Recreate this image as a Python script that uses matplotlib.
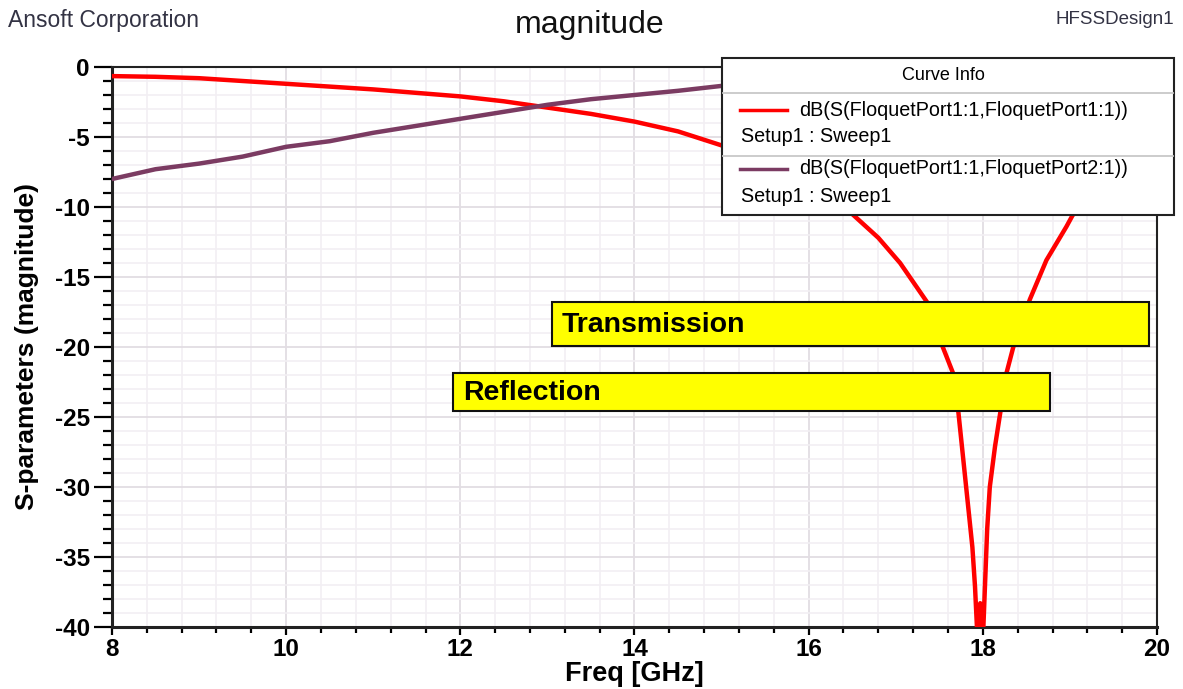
import numpy as np
import matplotlib
matplotlib.use('Agg')
import matplotlib.pyplot as plt
from matplotlib.patches import Rectangle
from matplotlib.lines import Line2D
from matplotlib.ticker import MultipleLocator

plt.rcParams['font.family'] = ['Liberation Sans', 'DejaVu Sans']
plt.rcParams['axes.unicode_minus'] = False

# --- data (hidden parts behind the legend estimated) ---
freq_s11 = [8.0, 8.5, 9.0, 9.5, 10.0, 10.5, 11.0, 11.5, 12.0, 12.5, 13.0, 13.5,
            14.0, 14.5, 15.0, 15.5, 16.0, 16.5, 16.8, 17.05, 17.36, 17.54, 17.66,
            17.72, 17.80, 17.88, 17.91, 17.94, 17.97, 18.00, 18.05, 18.08, 18.14,
            18.20, 18.27, 18.35, 18.54, 18.73, 18.96, 19.03, 19.3, 19.6, 20.0]
s11_db = [-0.65, -0.7, -0.8, -1.0, -1.2, -1.4, -1.6, -1.85, -2.1, -2.45, -2.9, -3.35,
          -3.9, -4.6, -5.6, -6.8, -8.3, -10.5, -12.2, -14.0, -16.8, -20.0, -21.9,
          -24.7, -29.5, -34.3, -37.1, -41.0, -38.3, -41.0, -33.0, -30.0, -27.1,
          -24.7, -21.9, -20.0, -16.6, -13.8, -11.4, -10.6, -8.5, -6.8, -5.2]

freq_s21 = [8.0, 8.5, 9.0, 9.5, 10.0, 10.5, 11.0, 11.5, 12.0, 12.5, 13.0, 13.5,
            14.0, 14.5, 15.0, 15.5, 16.0, 16.5, 17.0, 17.5, 18.0, 18.5, 19.0, 19.5, 20.0]
s21_db = [-8.0, -7.3, -6.9, -6.4, -5.7, -5.3, -4.7, -4.2, -3.7, -3.2, -2.7, -2.3,
          -2.0, -1.7, -1.35, -1.0, -0.7, -0.45, -0.25, -0.1, -0.05, -0.2, -0.5, -0.9, -1.3]

legend_names = ['dB(S(FloquetPort1:1,FloquetPort1:1))', 'dB(S(FloquetPort1:1,FloquetPort2:1))']
setup_name = 'Setup1 : Sweep1'
colors = ['#FF0000', '#7B3B62']

W, H = 1183, 689


def fx(px):
    return px / W


def fy(py):
    return 1 - py / H


fig = plt.figure(figsize=(W / 100, H / 100), dpi=100)
ax = fig.add_axes([fx(112), fy(627), fx(1157) - fx(112), fy(67) - fy(627)])

ax.plot(freq_s11, s11_db, color=colors[0], lw=3.2, zorder=3)
ax.plot(freq_s21, s21_db, color=colors[1], lw=3.2, zorder=3)

ax.set_xlim(8, 20)
ax.set_ylim(-40, 0)
ax.xaxis.set_major_locator(MultipleLocator(2))
ax.xaxis.set_minor_locator(MultipleLocator(0.4))
ax.yaxis.set_major_locator(MultipleLocator(5))
ax.yaxis.set_minor_locator(MultipleLocator(1))

ax.grid(which='major', color='#E2DDE3', lw=1.3, zorder=0)
ax.grid(which='minor', color='#F2EFF3', lw=1.2, zorder=0)
ax.set_axisbelow(True)

for s in ax.spines.values():
    s.set_linewidth(1.5)
    s.set_color('#222222')
ax.spines['bottom'].set_linewidth(2.2)
ax.spines['left'].set_linewidth(2.2)

ax.tick_params(axis='y', which='major', direction='out', length=13, width=1.6, labelsize=17.5, pad=3)
ax.tick_params(axis='y', which='minor', direction='out', length=6.5, width=1.6)
ax.tick_params(axis='x', which='major', direction='out', length=6, width=1.6, labelsize=17.5, pad=2)
ax.tick_params(axis='x', which='minor', direction='out', length=4, width=1.6)
for lab in ax.get_xticklabels() + ax.get_yticklabels():
    lab.set_fontweight('bold')

ax.set_xlabel('Freq [GHz]', fontsize=19.5, fontweight='bold')
ax.set_ylabel('S-parameters (magnitude)', fontsize=19, fontweight='bold', labelpad=11)
ax.xaxis.set_label_coords(0.5, -0.06)

# header texts
fig.text(fx(590), fy(25), 'magnitude', fontsize=23, ha='center', va='center', color='#111111')
fig.text(fx(8), fy(20), 'Ansoft Corporation', fontsize=16.5, ha='left', va='center', color='#333344')
fig.text(fx(1174), fy(20), 'HFSSDesign1', fontsize=13.5, ha='right', va='center', color='#333344')

# yellow annotation boxes
for x0, y0, x1, y1, label in [(552, 302, 1149, 346, 'Transmission'),
                              (453, 373, 1050, 411, 'Reflection')]:
    fig.patches.append(Rectangle((fx(x0), fy(y1)), fx(x1) - fx(x0), fy(y0) - fy(y1),
                                 transform=fig.transFigure, facecolor='#FFFF00',
                                 edgecolor='#111111', lw=1.5, zorder=5))
    fig.text(fx(x0 + 10), fy((y0 + y1) / 2 + 1), label, fontsize=20.5, fontweight='bold',
             ha='left', va='center', zorder=6)

# legend box "Curve Info"
lx0, ly0, lx1, ly1 = 722, 58, 1174, 215
fig.patches.append(Rectangle((fx(lx0), fy(ly1)), fx(lx1) - fx(lx0), fy(ly0) - fy(ly1),
                             transform=fig.transFigure, facecolor='white',
                             edgecolor='#222222', lw=1.5, zorder=7))
fig.text(fx(943), fy(75), 'Curve Info', fontsize=13, ha='center', va='center', zorder=8)
for sep in [93, 156]:
    fig.add_artist(Line2D([fx(lx0 + 1), fx(lx1 - 1)], [fy(sep), fy(sep)], color='#C8C8C8',
                          lw=1.3, transform=fig.transFigure, zorder=8))
for i, (name, col) in enumerate(zip(legend_names, colors)):
    yl = 110 + i * 59
    fig.add_artist(Line2D([fx(740), fx(787)], [fy(yl), fy(yl)], color=col, lw=2.5,
                          transform=fig.transFigure, zorder=8))
    fig.text(fx(799), fy(yl), name, fontsize=14.2, ha='left', va='center', zorder=8)
    fig.text(fx(741), fy(yl + 27), setup_name, fontsize=14.2, ha='left', va='center', zorder=8)

fig.savefig('out.png', dpi=100)
